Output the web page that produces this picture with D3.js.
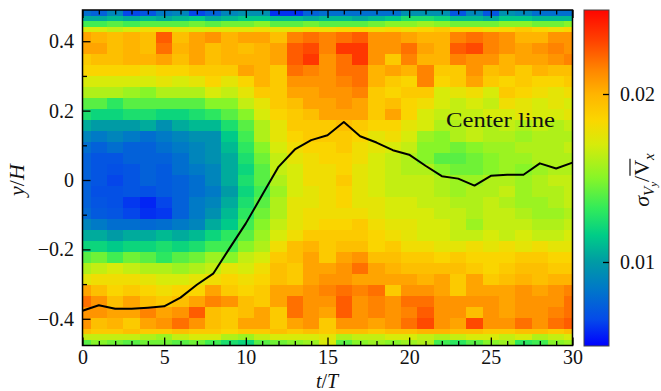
<!DOCTYPE html>
<html>
<head>
<meta charset="utf-8">
<script src="https://cdn.jsdelivr.net/npm/d3@7"></script>
<style>
body { margin: 0; background: #fff; }
svg { display: block; font-family: "Liberation Serif", "DejaVu Serif", serif; }
</style>
</head>
<body>
<div id="chart"></div>
<script>
// time steps t/T (one column of cells per step)
var tSteps = [0,1,2,3,4,5,6,7,8,9,10,11,12,13,14,15,16,17,18,19,20,21,22,23,24,25,26,27,28,29,30];

// row edges in y/H, top to bottom (rows of the sigma table below)
var rowEdges = [0.490, 0.474, 0.458, 0.442, 0.427, 0.395, 0.363, 0.331, 0.300, 0.268, 0.236, 0.205,
    0.173, 0.141, 0.110, 0.078, 0.046, 0.015, -0.017, -0.049, -0.081, -0.112, -0.144, -0.176,
    -0.207, -0.239, -0.271, -0.303, -0.334, -0.366, -0.398, -0.429, -0.445, -0.461, -0.477];

// sigma_Vy / mean Vx, in units of 1e-3, one row per band, one value per time step
var sigma = [
    [8,7.5,9,6.5,7,8.5,9,6.5,7.5,9,9.5,9.5,6,6,7.5,8,8,8,8,8,9.5,9.5,9.5,7,9,7,9.5,9,8,8,8],
    [10.5,10.5,11,10.5,11,10.5,11,11.5,10.5,11,11.5,11.5,11,11,10.5,11,11,10.5,11,11.5,12.5,12.5,12,11,11,10.5,11.5,11.5,11,11,11],
    [13.5,13.5,14,13.5,14,14,14,14.5,14,14.5,14.5,15,14,14,14.5,14,14,14,14.5,15,15,15.5,15,14.5,14.5,14.5,15,15,14.5,14.5,15],
    [17,17,16.5,17,18,18,17.5,17,17.5,17.5,17.5,18,17.5,17.5,18,18,18.5,18.5,18,18.5,18,18.5,19,18.5,18.5,18,18.5,19,18.5,18,18.5],
    [20.5,20,19.5,20,19.5,22.5,19.5,20.5,21,20,20.5,20.5,19.5,21.5,22,21.5,22,22.5,21,21,20.5,20,20,21.5,22,21.5,21,20,20,21,21],
    [20.5,20.5,19.5,20,19.5,22,20,20.5,19.5,20,19.5,20,20.5,22.5,23,21.5,23.5,23.5,21,21,22,20.5,20,22.5,23,21.5,21,20.5,21,21.5,21],
    [19,19.5,19.5,20,20,20.5,19.5,20.5,19.5,20,20,20,20.5,22.5,23.5,21,22,23.5,21,19,21.5,20,20,21.5,21,21,20,20.5,20.5,21,21.5],
    [18.5,18.5,18.5,18.5,18,18.5,18.5,19,19,19,20.5,20,19,22,21.5,21,22,22,20,20.5,20,21.5,19,19,21,19.5,20,19,20,19.5,19.5],
    [17,17,17,17,17,17.5,17,17.5,18.5,17.5,18.5,20,19,21,21,21,21.5,22,20,19,18.5,21.5,18.5,19,20.5,19,18.5,19,18.5,18.5,19],
    [16,16,16,15.5,15,16,16,16,17,16.5,17.5,19,19,20.5,20.5,21,21,21.5,19,18.5,19,19,17,17.5,18,17,19,18.5,18,17.5,18],
    [14,14,13,14,14,14,14,14,15,15,16.5,17.5,19,19.5,20.5,20.5,21,20.5,19,19.5,18.5,18,17,16.5,17,16.5,18,17.5,17,17.5,17],
    [12.5,12,12,12.5,12.5,12,12,12.5,13,14,15,17,18.5,19,19.5,20.5,20.5,20.5,19,20.5,18.5,17,16.5,16.5,16.5,17,17,17.5,17,17,17.5],
    [10.5,10,10,10,10.5,9.5,10.5,11,11,12.5,14,16,17.5,19,19,19,19.5,19,18.5,18.5,17.5,17,16,16,16.5,16,16.5,16,16.5,16,16.5],
    [9,8.5,9,8.5,8,8.5,9,9.5,9.5,11.5,13.5,16,17.5,18.5,19,19,19,18.5,17.5,18,17,15.5,15,16,16.5,16,16,15.5,16,16,16],
    [8,7.5,8,7.5,7.5,8,8.5,9,9.5,11,13,15,17,18,18.5,18.5,19,18,17.5,17,16.5,15,15,14.5,15,15.5,15.5,16,16,16,16.5],
    [7.5,7,7,7.5,7.5,7.5,8,9,9.5,10.5,12.5,14.5,16.5,17.5,18,18.5,18.5,18,17,16.5,16,15,14,14,14.5,15,15.5,15.5,16,16,16],
    [7.5,7,6.8,7,7.5,7.2,8,8.5,9,10.5,12,14,16.5,17,18,18,18.5,17.5,17,16.5,16,16,15,14.5,14.5,15,15.5,15,15.5,16,16],
    [7.5,7,6.5,7,7.5,7.2,7.5,8,9,10.5,12.5,14,16,17,18,18,19,17.5,17,16.5,16.5,16.5,16,15.5,15.5,16,16,15.5,16,16.5,16.5],
    [7.5,6.8,6.8,7,6.8,7.2,7.5,8,8.5,10,12,13.5,15.5,17,17.5,18,18.5,17.5,17,16.5,16.5,16.5,16,15.5,16,16,16.5,15.5,16,16,16.5],
    [7.5,7,6.8,6.2,5.8,6.5,7.5,8.5,9,10.5,12.5,14,16,17.5,17.5,18,18.5,17.5,17.5,17,17,16.5,16.5,16,16,16.5,16,15.5,15.5,16,16.5],
    [7.8,7.2,7,6.5,6,6.2,7.5,8.5,9.5,11,13,14.5,16,17.5,18,18,18,18,17.5,17,17,17,16.5,16.5,16,16.5,16.5,16,15.5,15.5,16],
    [9,8.5,8,8,7.8,8,8.5,9,10.5,11.5,13.5,15,16.5,17.5,18,18.5,18.5,19,18,17.5,17.5,17,17,16.5,15.5,16.5,16.5,16.5,16,16,16.5],
    [10.5,10.5,10,10.5,10.5,11,10.5,11,12,13,14,15.5,17,18,19,19,19,19,18.5,18,17.5,17,17,16.5,16.5,17,16.5,17,16.5,16.5,17],
    [12,12,11.5,12,12,12.5,12,12.5,13.5,13.5,15,16,18,19.5,20,19,19.5,19.5,18.5,19,18,18,17.5,17.5,18,17.5,18,17.5,18,17.5,17.5],
    [14,14.5,13.5,14.5,14,13,14,14.5,15.5,15,16.5,17,19,19.5,20.5,19,20.5,21,19.5,19.5,19,19,18.5,19,18.5,18.5,18.5,19,19,18.5,18.5],
    [16,16.5,17,16.5,16,16,15.5,16,16.5,17.5,17,18,19.5,19,20.5,20.5,21,22,20.5,20,19.5,19.5,19.5,19.5,19,18.5,19,19.5,19.5,19,19],
    [17.5,18,18,18,17.5,17,17,17.5,18,18.5,18,18.5,19.5,19,20.5,21,21,20.5,20.5,20.5,20.5,20,20.5,19,20.5,19,19.5,20,19.5,20,20],
    [20.5,19.5,18.5,19,18.5,18,18.5,18.5,20.5,19,18.5,19,20.5,20.5,21,21.5,22,21.5,22,19,21,21,20.5,19,20.5,20.5,20.5,21,20.5,21,21.5],
    [22,21,19.5,20.5,19.5,19,19.5,20.5,21.5,21,19.5,19,20.5,22,21,21,22.5,21,21.5,21,22,22,21,21,21,21,20.5,21,21,21,22],
    [21,21,20.5,20.5,21.5,20.5,21,22.5,19.5,19,19.5,20.5,19,22,21,20.5,22.5,21,21.5,21,21.5,22.5,21,21,19.5,21,20.5,21,21,21.5,22],
    [21,19.5,20,19,20.5,21,22,21,19.5,19,20.5,20.5,19,20.5,21,19,21,21,20.5,21,22,23,21,20.5,23,21,21,22,21,22,22.5],
    [19.5,19,19,19.5,19,19,19.5,19,19,18.5,19,19,19.5,19,19.5,19,19.5,19.5,19,19.5,19.5,20,20,19.5,19.5,19,19,19.5,19.5,19,19.5],
    [16.5,16.5,16.5,16.5,16,15.5,16.5,17,17,16,15.5,16.5,17,17,17,17.5,16,16.5,16.5,17,17,16.5,16,16.5,17,17,16.5,17,16,16.5,17],
    [14,15,14.5,14,14.5,14.5,14,14.5,13.5,12.5,12,14,14.5,15,15.5,17,14,15,15.5,15,15.5,16,13.5,13,14,15,15.5,13,13.5,15,15.5]
];

// position of the center line (y/H) at each time step
var centerLine = [-0.377,-0.361,-0.371,-0.371,-0.368,-0.364,-0.339,-0.302,-0.270,-0.197,-0.125,-0.043,
    0.038,0.088,0.115,0.129,0.167,0.126,0.108,0.086,0.073,0.041,0.011,0.004,-0.016,0.012,0.015,0.015,0.048,0.033,0.050];

// axis ticks
var xMajorTicks = [0,5,10,15,20,25,30];
var xMinorTicks = [1,2,3,4,6,7,8,9,11,12,13,14,16,17,18,19,21,22,23,24,26,27,28,29];
var yMajorTicks = [-0.4,-0.2,0,0.2,0.4];
var yMinorTicks = [-0.3,-0.1,0.1,0.3];
var cbTicks = [0.01,0.02];

// colour map stops (fraction of the colour range -> colour)
var cmapStops = [0, 0.08, 0.17, 0.25, 0.33, 0.41, 0.50, 0.60, 0.67, 0.75, 0.82, 0.91, 1];
var cmapColors = ["#0000ff","#054be9","#0078c8","#009ba5","#00cd87","#32eb5a","#87f528",
    "#d7eb0a","#fad700","#ffb400","#ff8700","#ff4100","#ff0500"];

var width = 661, height = 391;
var plot = {left: 82.5, right: 572.5, top: 10, bottom: 345.5};
var cb = {left: 584, right: 609, top: 10, bottom: 346};
var cMin = 0.005, cMax = 0.025;
var serif = "'Liberation Serif', 'DejaVu Serif', serif";

var svg = d3.select("#chart").append("svg")
    .attr("width", width)
    .attr("height", height);

var xScale = d3.scaleLinear().domain([0, 30]).range([plot.left, plot.right]);
var yScale = d3.scaleLinear().domain([-0.477, 0.49]).range([plot.bottom, plot.top]);

var colorScale = d3.scaleLinear()
    .domain(cmapStops.map(function(f){ return cMin + f * (cMax - cMin); }))
    .range(cmapColors)
    .interpolate(d3.interpolateRgb)
    .clamp(true);

//clip so the half cells at t=0 and t=30 stay inside the frame
svg.append("clipPath").attr("id", "plotClip")
    .append("rect")
    .attr("x", plot.left).attr("y", plot.top)
    .attr("width", plot.right - plot.left)
    .attr("height", plot.bottom - plot.top);

var cells = [];
sigma.forEach(function(row, i){
    row.forEach(function(v, c){
        cells.push({t: tSteps[c], top: rowEdges[i], bottom: rowEdges[i + 1], value: v * 1e-3});
    });
});

svg.append("g")
    .attr("clip-path", "url(#plotClip)")
    .selectAll("rect")
    .data(cells)
    .enter().append("rect")
    .attr("x", function(d){ return xScale(d.t - 0.5); })
    .attr("width", function(d){ return xScale(d.t + 0.5) - xScale(d.t - 0.5); })
    .attr("y", function(d){ return yScale(d.top); })
    .attr("height", function(d){ return yScale(d.bottom) - yScale(d.top); })
    .attr("fill", function(d){ return colorScale(d.value); })
    .attr("shape-rendering", "crispEdges");

// center line
var line = d3.line()
    .x(function(d, i){ return xScale(tSteps[i]); })
    .y(function(d){ return yScale(d); });

svg.append("path")
    .datum(centerLine)
    .attr("d", line)
    .attr("fill", "none")
    .attr("stroke", "#000")
    .attr("stroke-width", 2)
    .attr("stroke-linejoin", "round");

svg.append("text")
    .attr("x", 446)
    .attr("y", 127)
    .attr("font-size", 22)
    .attr("textLength", 109)
    .attr("lengthAdjust", "spacingAndGlyphs")
    .attr("fill", "#111")
    .text("Center line");

// axes, ticks pointing inwards
function styleAxis(g){
    g.attr("font-family", serif).attr("font-size", 20);
    g.select(".domain").remove();
    g.selectAll(".tick line").attr("stroke", "#000").attr("stroke-width", 1.3);
    g.selectAll(".tick text").attr("fill", "#111");
}

var fmtY = function(d){ return d === 0 ? "0" : d3.format(".1f")(d); };

svg.append("g").attr("transform", "translate(0," + plot.bottom + ")")
    .call(d3.axisBottom(xScale).tickValues(xMajorTicks).tickSize(-8).tickPadding(4))
    .call(styleAxis);
svg.append("g").attr("transform", "translate(0," + plot.bottom + ")")
    .call(d3.axisBottom(xScale).tickValues(xMinorTicks).tickSize(-4.5).tickFormat(""))
    .call(styleAxis);
svg.append("g").attr("transform", "translate(0," + plot.top + ")")
    .call(d3.axisTop(xScale).tickValues(xMajorTicks).tickSize(-8).tickFormat(""))
    .call(styleAxis);
svg.append("g").attr("transform", "translate(0," + plot.top + ")")
    .call(d3.axisTop(xScale).tickValues(xMinorTicks).tickSize(-4.5).tickFormat(""))
    .call(styleAxis);
svg.append("g").attr("transform", "translate(" + plot.left + ",0)")
    .call(d3.axisLeft(yScale).tickValues(yMajorTicks).tickSize(-8).tickPadding(8.5).tickFormat(fmtY))
    .call(styleAxis);
svg.append("g").attr("transform", "translate(" + plot.left + ",0)")
    .call(d3.axisLeft(yScale).tickValues(yMinorTicks).tickSize(-4.5).tickFormat(""))
    .call(styleAxis);

svg.append("rect")
    .attr("x", plot.left).attr("y", plot.top)
    .attr("width", plot.right - plot.left)
    .attr("height", plot.bottom - plot.top)
    .attr("fill", "none")
    .attr("stroke", "#000")
    .attr("stroke-width", 1.5);

// axis titles
svg.append("text")
    .attr("x", 327).attr("y", 388)
    .attr("text-anchor", "middle")
    .attr("font-size", 20)
    .attr("fill", "#111")
    .html('<tspan font-style="italic">t</tspan>/<tspan font-style="italic">T</tspan>');

svg.append("text")
    .attr("transform", "translate(24,180) rotate(-90)")
    .attr("text-anchor", "middle")
    .attr("font-size", 22)
    .attr("fill", "#111")
    .html('<tspan font-style="italic">y</tspan>/<tspan font-style="italic">H</tspan>');

// colour bar
var cbScale = d3.scaleLinear().domain([cMin, cMax]).range([cb.bottom, cb.top]);

var grad = svg.append("defs").append("linearGradient")
    .attr("id", "cbGrad")
    .attr("x1", 0).attr("y1", 1).attr("x2", 0).attr("y2", 0);
grad.selectAll("stop")
    .data(cmapStops)
    .enter().append("stop")
    .attr("offset", function(d){ return d; })
    .attr("stop-color", function(d, i){ return cmapColors[i]; });

svg.append("rect")
    .attr("x", cb.left).attr("y", cb.top)
    .attr("width", cb.right - cb.left)
    .attr("height", cb.bottom - cb.top)
    .attr("fill", "url(#cbGrad)")
    .attr("stroke", "#444")
    .attr("stroke-width", 1);

svg.append("g").attr("transform", "translate(" + cb.right + ",0)")
    .call(d3.axisRight(cbScale).tickValues(cbTicks).tickSize(-6).tickPadding(11).tickFormat(d3.format(".2f")))
    .call(styleAxis);

var cbLabel = svg.append("g").attr("transform", "translate(649,180) rotate(-90)");
var cbText = cbLabel.append("text")
    .attr("text-anchor", "middle")
    .attr("font-size", 22)
    .attr("fill", "#111")
    .html('<tspan font-style="italic">σ</tspan>' +
          '<tspan font-size="15" font-style="italic" dy="5">V</tspan>' +
          '<tspan font-size="11" font-style="italic" dy="3">y</tspan>' +
          '<tspan dy="-8">/</tspan>' +
          '<tspan>V</tspan>' +
          '<tspan font-size="15" font-style="italic" dy="5">x</tspan>');

// overline above the mean velocity V
var vBox = cbText.node().getExtentOfChar(4);
cbLabel.append("line")
    .attr("x1", vBox.x).attr("x2", vBox.x + vBox.width + 1)
    .attr("y1", vBox.y + 1).attr("y2", vBox.y + 1)
    .attr("stroke", "#111")
    .attr("stroke-width", 1.2);
</script>
</body>
</html>
